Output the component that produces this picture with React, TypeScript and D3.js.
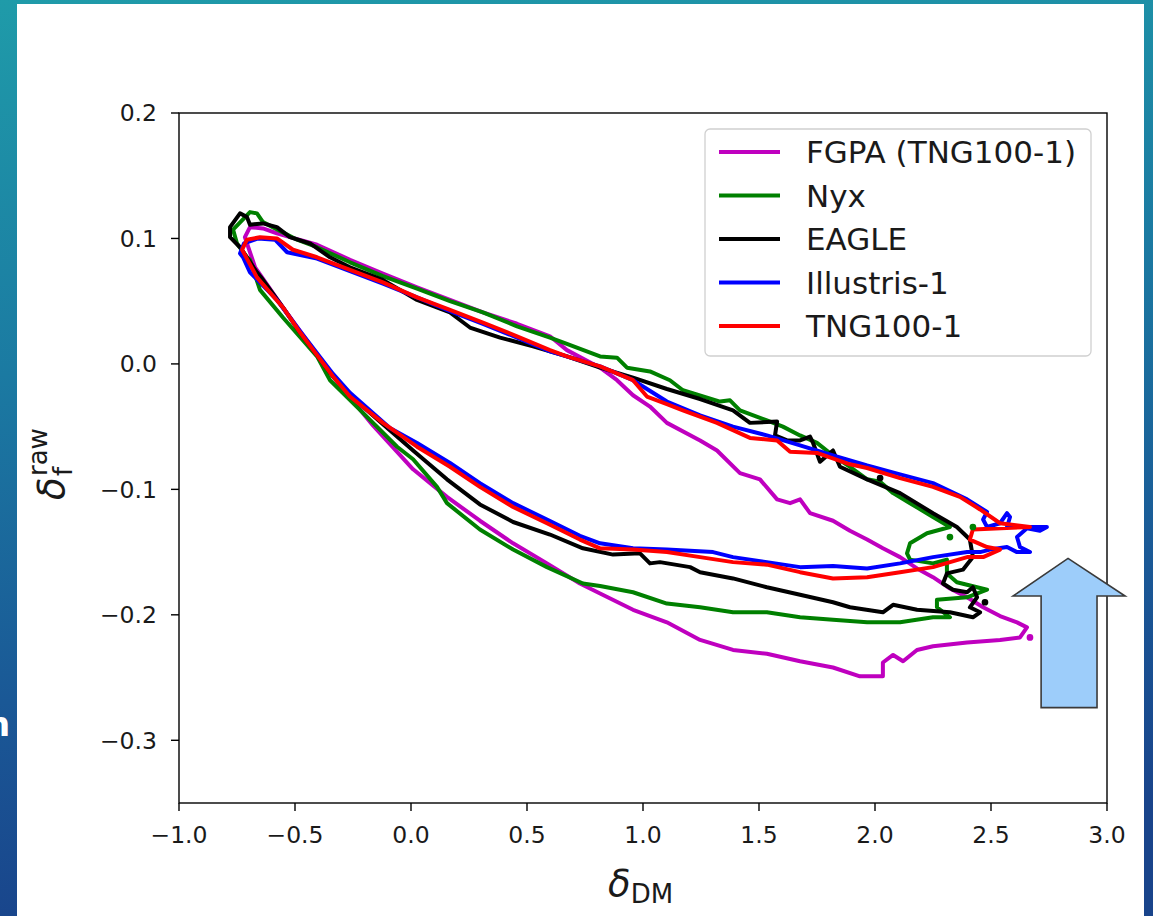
import React from 'react';
import * as d3 from 'd3';

const W = 1153;
const H = 916;

const seriesNames = ['FGPA (TNG100-1)', 'Nyx', 'EAGLE', 'Illustris-1', 'TNG100-1'];
const seriesColors = ['#bf00bf', '#008000', '#000000', '#0000ff', '#ff0000'];

// contour outlines, [delta_DM, delta_f_raw]
const fgpa: [number, number][] = [
  [-0.716, 0.101], [-0.694, 0.109], [-0.638, 0.108], [-0.578, 0.104], [-0.405, 0.095], [-0.263, 0.083],
  [-0.121, 0.072], [0.026, 0.061], [0.168, 0.051], [0.31, 0.041], [0.457, 0.032], [0.599, 0.022],
  [0.672, 0.011], [0.815, -0.003], [0.888, -0.013], [0.957, -0.025], [1.03, -0.034], [1.103, -0.047],
  [1.246, -0.061], [1.319, -0.069], [1.418, -0.087], [1.504, -0.092], [1.578, -0.108], [1.634, -0.111],
  [1.677, -0.108], [1.72, -0.119], [1.819, -0.125], [1.892, -0.133], [1.966, -0.14], [2.034, -0.147],
  [2.108, -0.154], [2.181, -0.163], [2.25, -0.17], [2.323, -0.179], [2.397, -0.186], [2.466, -0.194],
  [2.539, -0.201], [2.612, -0.206], [2.655, -0.21], [2.625, -0.218], [2.539, -0.22], [2.397, -0.222],
  [2.25, -0.225], [2.181, -0.228], [2.121, -0.237], [2.078, -0.232], [2.034, -0.238], [2.034, -0.249],
  [1.935, -0.249], [1.819, -0.242], [1.677, -0.237], [1.534, -0.231], [1.388, -0.228], [1.246, -0.22],
  [1.103, -0.206], [0.957, -0.196], [0.815, -0.183], [0.728, -0.175], [0.586, -0.159], [0.44, -0.143],
  [0.297, -0.125], [0.155, -0.106], [0.009, -0.084], [-0.164, -0.049], [-0.336, -0.01], [-0.552, 0.045],
  [-0.672, 0.077],
];

const nyx: [number, number][] = [
  [-0.767, 0.107], [-0.694, 0.121], [-0.664, 0.12], [-0.638, 0.113], [-0.491, 0.099], [-0.405, 0.093],
  [-0.263, 0.081], [-0.121, 0.07], [0.026, 0.06], [0.168, 0.05], [0.31, 0.041], [0.457, 0.03],
  [0.599, 0.021], [0.672, 0.016], [0.815, 0.006], [0.888, 0.005], [0.931, -0.003], [1.03, -0.006],
  [1.116, -0.013], [1.172, -0.021], [1.332, -0.03], [1.375, -0.029], [1.418, -0.037], [1.534, -0.045],
  [1.603, -0.05], [1.677, -0.057], [1.75, -0.063], [1.819, -0.073], [1.892, -0.082], [1.966, -0.092],
  [2.022, -0.094], [2.078, -0.103], [2.151, -0.111], [2.25, -0.122], [2.323, -0.13], [2.224, -0.135],
  [2.151, -0.143], [2.138, -0.151], [2.151, -0.156], [2.25, -0.159], [2.31, -0.156], [2.31, -0.167],
  [2.353, -0.174], [2.44, -0.178], [2.483, -0.18], [2.397, -0.186], [2.267, -0.188], [2.267, -0.194],
  [2.323, -0.202], [2.25, -0.202], [2.108, -0.206], [1.966, -0.206], [1.819, -0.204], [1.677, -0.202],
  [1.534, -0.198], [1.388, -0.198], [1.246, -0.194], [1.103, -0.191], [0.957, -0.182], [0.815, -0.177],
  [0.741, -0.175], [0.586, -0.162], [0.44, -0.148], [0.297, -0.132], [0.155, -0.111], [0.112, -0.098],
  [0.009, -0.076], [-0.06, -0.066], [-0.207, -0.039], [-0.349, -0.013], [-0.405, 0.006], [-0.552, 0.037],
  [-0.651, 0.059], [-0.694, 0.083], [-0.707, 0.085], [-0.75, 0.096],
];

const eagle: [number, number][] = [
  [-0.78, 0.109], [-0.737, 0.12], [-0.707, 0.117], [-0.694, 0.111], [-0.638, 0.112], [-0.578, 0.109],
  [-0.522, 0.101], [-0.435, 0.096], [-0.349, 0.085], [-0.263, 0.077], [-0.121, 0.067], [0.026, 0.051],
  [0.168, 0.041], [0.254, 0.029], [0.384, 0.021], [0.526, 0.014], [0.672, 0.006], [0.815, -0.003],
  [0.957, -0.011], [1.103, -0.02], [1.246, -0.028], [1.388, -0.037], [1.461, -0.047], [1.578, -0.046],
  [1.569, -0.057], [1.621, -0.061], [1.677, -0.061], [1.72, -0.058], [1.733, -0.063], [1.763, -0.078],
  [1.819, -0.069], [1.849, -0.082], [1.966, -0.092], [2.108, -0.103], [2.25, -0.119], [2.353, -0.13],
  [2.409, -0.14], [2.422, -0.154], [2.379, -0.164], [2.31, -0.167], [2.293, -0.175], [2.336, -0.18],
  [2.397, -0.182], [2.422, -0.178], [2.44, -0.186], [2.409, -0.194], [2.453, -0.198], [2.422, -0.202],
  [2.323, -0.198], [2.181, -0.196], [2.078, -0.192], [2.034, -0.198], [1.892, -0.194], [1.819, -0.19],
  [1.677, -0.184], [1.534, -0.178], [1.388, -0.171], [1.246, -0.166], [1.203, -0.162], [1.073, -0.158],
  [1.03, -0.159], [0.987, -0.151], [0.871, -0.152], [0.741, -0.147], [0.599, -0.136], [0.44, -0.126],
  [0.297, -0.112], [0.155, -0.092], [0.009, -0.069], [-0.121, -0.048], [-0.263, -0.025], [-0.336, -0.01],
  [-0.478, 0.025], [-0.552, 0.045], [-0.638, 0.067], [-0.664, 0.073], [-0.737, 0.093], [-0.78, 0.101],
];

const illustris: [number, number][] = [
  [-0.737, 0.088], [-0.72, 0.096], [-0.659, 0.1], [-0.586, 0.099], [-0.534, 0.089], [-0.405, 0.084],
  [-0.263, 0.074], [-0.121, 0.064], [0.026, 0.053], [0.168, 0.042], [0.31, 0.032], [0.457, 0.021],
  [0.599, 0.01], [0.815, -0.002], [0.957, -0.013], [1.103, -0.03], [1.246, -0.041], [1.388, -0.05],
  [1.534, -0.057], [1.677, -0.065], [1.819, -0.073], [1.966, -0.081], [2.108, -0.088], [2.25, -0.095],
  [2.397, -0.108], [2.483, -0.118], [2.466, -0.124], [2.483, -0.13], [2.539, -0.127], [2.569, -0.119],
  [2.582, -0.122], [2.569, -0.13], [2.681, -0.13], [2.741, -0.13], [2.711, -0.133], [2.655, -0.131],
  [2.612, -0.138], [2.625, -0.146], [2.668, -0.15], [2.612, -0.15], [2.569, -0.146], [2.496, -0.148],
  [2.453, -0.15], [2.397, -0.15], [2.25, -0.154], [2.108, -0.159], [1.966, -0.163], [1.819, -0.161],
  [1.677, -0.162], [1.534, -0.158], [1.388, -0.154], [1.302, -0.15], [1.103, -0.148], [0.957, -0.147],
  [0.815, -0.143], [0.728, -0.137], [0.586, -0.124], [0.44, -0.111], [0.297, -0.095], [0.168, -0.079],
  [0.026, -0.063], [-0.091, -0.051], [-0.263, -0.023], [-0.336, -0.008], [-0.478, 0.026], [-0.578, 0.051],
  [-0.694, 0.073], [-0.724, 0.085],
];

const tng: [number, number][] = [
  [-0.728, 0.091], [-0.707, 0.099], [-0.651, 0.101], [-0.578, 0.1], [-0.509, 0.091], [-0.405, 0.085],
  [-0.263, 0.075], [-0.121, 0.065], [0.026, 0.053], [0.168, 0.043], [0.31, 0.033], [0.457, 0.022],
  [0.599, 0.011], [0.672, 0.006], [0.815, -0.002], [0.957, -0.013], [1.017, -0.026], [1.103, -0.032],
  [1.172, -0.037], [1.319, -0.047], [1.461, -0.059], [1.578, -0.061], [1.634, -0.07], [1.75, -0.071],
  [1.892, -0.08], [1.966, -0.083], [2.108, -0.091], [2.25, -0.098], [2.366, -0.106], [2.453, -0.116],
  [2.539, -0.127], [2.668, -0.13], [2.422, -0.132], [2.409, -0.14], [2.483, -0.146], [2.539, -0.148],
  [2.466, -0.154], [2.397, -0.154], [2.25, -0.162], [2.108, -0.166], [1.966, -0.17], [1.819, -0.171],
  [1.677, -0.166], [1.534, -0.16], [1.388, -0.158], [1.246, -0.154], [1.103, -0.15], [0.957, -0.148],
  [0.815, -0.147], [0.728, -0.14], [0.586, -0.127], [0.44, -0.114], [0.297, -0.098], [0.168, -0.082],
  [0.026, -0.066], [-0.121, -0.047], [-0.263, -0.026], [-0.336, -0.01], [-0.478, 0.025], [-0.552, 0.045],
  [-0.664, 0.069], [-0.681, 0.075],
];

const seriesContours = [fgpa, nyx, eagle, illustris, tng];

// tiny isolated contour islands: [series index, delta_DM, delta_f_raw]
const islands: [number, number, number][] = [
  [0, 2.668, -0.218],
  [1, 2.422, -0.13],
  [1, 2.323, -0.138],
  [2, 2.022, -0.091],
  [2, 2.474, -0.19],
];

const xTicks = [-1.0, -0.5, 0.0, 0.5, 1.0, 1.5, 2.0, 2.5, 3.0];
const yTicks = [-0.3, -0.2, -0.1, 0.0, 0.1, 0.2];

// slide annotation arrow, in data units
const arrowOutline: [number, number][] = [
  [2.832, -0.155], [3.078, -0.185], [2.957, -0.185], [2.957, -0.274],
  [2.716, -0.274], [2.716, -0.185], [2.595, -0.185],
];

const fmt = (d: number) => (d < 0 ? '\u2212' : '') + Math.abs(d).toFixed(1);

export default function App() {
  const left = 179, right = 1107, top = 113, bottom = 803;
  const x = d3.scaleLinear().domain([-1, 3]).range([left, right]);
  const y = d3.scaleLinear().domain([-0.35, 0.2]).range([bottom, top]);
  const line = d3
    .line<[number, number]>()
    .x((d) => x(d[0]))
    .y((d) => y(d[1]))
    .curve(d3.curveLinearClosed);

  const font = 'DejaVu Sans, Verdana, sans-serif';
  const textCol = '#1a1a1a';
  const lw = 4;

  const legendX = 705, legendY = 129, legendW = 386, legendH = 227;
  const rowY = (i: number) => 152 + i * 43.5;

  return (
    <svg
      width={W}
      height={H}
      style={{ position: 'fixed', left: 0, top: 0, display: 'block' }}
      fontFamily={font}
    >
      <defs>
        <linearGradient id="bg" x1="0" y1="0" x2="0.15" y2="1">
          <stop offset="0" stopColor="#1f9ba9" />
          <stop offset="0.4" stopColor="#1b7aa2" />
          <stop offset="0.75" stopColor="#1a5896" />
          <stop offset="1" stopColor="#19448b" />
        </linearGradient>
        <clipPath id="plotclip">
          <rect x={left} y={top} width={right - left} height={bottom - top} />
        </clipPath>
      </defs>
      <rect x={0} y={0} width={W} height={H} fill="url(#bg)" />
      <text x={-14} y={736} fontSize={34} fill="#ffffff" fontWeight="bold">n</text>
      <rect x={17} y={4} width={1127} height={H} fill="#ffffff" />

      {/* contours */}
      <g clipPath="url(#plotclip)">
        {seriesContours.map((pts, i) => (
          <path
            key={seriesNames[i]}
            d={line(pts) || ''}
            fill="none"
            stroke={seriesColors[i]}
            strokeWidth={lw}
            strokeLinejoin="round"
          />
        ))}
        {islands.map((d, i) => (
          <circle
            key={'is' + i}
            cx={x(d[1])}
            cy={y(d[2])}
            r={2.6}
            fill={seriesColors[d[0]]}
            stroke={seriesColors[d[0]]}
            strokeWidth={1.5}
          />
        ))}
      </g>

      {/* axes frame */}
      <rect x={left} y={top} width={right - left} height={bottom - top} fill="none" stroke="#000" strokeWidth={1.4} />

      {/* x ticks */}
      {xTicks.map((t) => (
        <g key={'x' + t}>
          <line x1={x(t)} x2={x(t)} y1={bottom} y2={bottom + 8} stroke="#000" strokeWidth={1.4} />
          <text x={x(t)} y={843} fontSize={23.5} textAnchor="middle" fill={textCol}>
            {fmt(t)}
          </text>
        </g>
      ))}
      {/* y ticks */}
      {yTicks.map((t) => (
        <g key={'y' + t}>
          <line x1={left - 8} x2={left} y1={y(t)} y2={y(t)} stroke="#000" strokeWidth={1.4} />
          <text x={157} y={y(t)} dy="0.36em" fontSize={23.5} textAnchor="end" fill={textCol}>
            {fmt(t)}
          </text>
        </g>
      ))}

      {/* x label */}
      <text x={608} y={896} fontSize={37} fill={textCol}>
        <tspan fontStyle="italic">δ</tspan>
        <tspan fontSize={26} dy={7}>DM</tspan>
      </text>

      {/* y label */}
      <g transform="translate(64,500) rotate(-90)">
        <text x={0} y={0} fontSize={37} fontStyle="italic" fill={textCol}>δ</text>
        <text x={24} y={8} fontSize={26} fill={textCol}>f</text>
        <text x={24} y={-17} fontSize={26} fill={textCol}>raw</text>
      </g>

      {/* legend */}
      <rect
        x={legendX}
        y={legendY}
        width={legendW}
        height={legendH}
        rx={5}
        fill="#ffffff"
        fillOpacity={0.85}
        stroke="#d0d0d0"
        strokeWidth={1.3}
      />
      {seriesNames.map((name, i) => (
        <g key={'lg' + name}>
          <line x1={719} x2={780} y1={rowY(i)} y2={rowY(i)} stroke={seriesColors[i]} strokeWidth={lw} />
          <text x={806} y={rowY(i)} dy="0.36em" fontSize={31} fill={textCol}>
            {name}
          </text>
        </g>
      ))}

      {/* annotation arrow */}
      <path
        d={(d3.line<[number, number]>().x((d) => x(d[0])).y((d) => y(d[1])).curve(d3.curveLinearClosed))(arrowOutline) || ''}
        fill="#9dcdfa"
        stroke="#3a3a3a"
        strokeWidth={1.6}
        strokeLinejoin="miter"
      />
    </svg>
  );
}
